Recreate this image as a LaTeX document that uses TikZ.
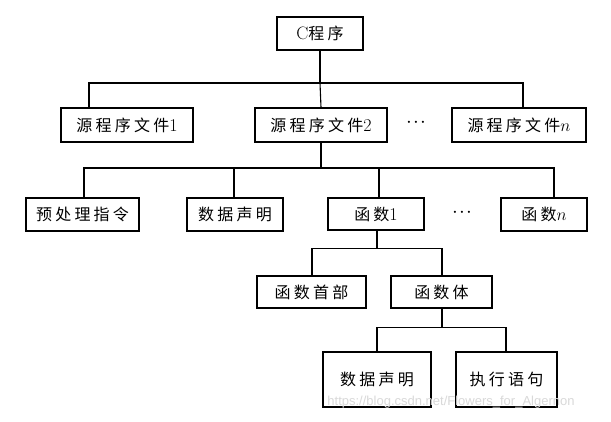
\documentclass[tikz,border=0pt]{standalone}
\usepackage{fontspec}
\newfontfamily\cjk[LetterSpace=20]{Noto Sans CJK SC}
\newfontfamily\wmfont{Liberation Sans}
\newcommand\lat[1]{{\normalfont\fontsize{18}{20}\selectfont #1}}
\begin{document}
\begin{tikzpicture}[x=1pt,y=-1pt,
  box/.style={draw,line width=1.3pt,inner sep=0pt,font=\fontsize{16}{18}\selectfont\cjk},
  conn/.style={line width=1.1pt},
  dotsnode/.style={inner sep=0pt,font=\fontsize{20}{22}\selectfont}]
\useasboundingbox[fill=white] (0,0) rectangle (611,421);
% level 1
\node[box,minimum width=86pt,minimum height=33pt] (C) at (320,33.5) {\lat{C}程序};
% level 2
\node[box,minimum width=132pt,minimum height=34pt] (f1) at (127,125) {源程序文件\lat{1}};
\node[box,minimum width=132pt,minimum height=34pt] (f2) at (321,125) {源程序文件\lat{2}};
\node[box,minimum width=134pt,minimum height=34pt] (fn) at (519,125) {源程序文件\lat{$n$}};
\node[dotsnode] (d1) at (416,123) {$\cdot\!\cdot\!\cdot$};
\draw[conn] (C.south) -- (C.south |- 0,83) coordinate (b1);
\draw[conn] ([xshift=-38pt]f1.north) |- (b1);
\draw[conn] (f2.north) -- (b1);
\draw[conn] ([xshift=4pt]fn.north) |- (b1);
% level 3
\node[box,minimum width=113pt,minimum height=33pt] (pre) at (82.5,214.5) {预处理指令};
\node[box,minimum width=96pt,minimum height=33pt] (ds) at (235,214.5) {数据声明};
\node[box,minimum width=96pt,minimum height=32pt] (fun1) at (376,214) {函数\lat{1}};
\node[box,minimum width=86pt,minimum height=33pt] (funn) at (544,214.5) {函数\lat{$n$}};
\node[dotsnode] (d2) at (462,213) {$\cdot\!\cdot\!\cdot$};
\draw[conn] (f2.south) -- (f2.south |- 0,168) coordinate (b2);
\draw[conn] ([xshift=1.5pt]pre.north) |- (b2);
\draw[conn] ([xshift=-1pt]ds.north) |- (b2);
\draw[conn] ([xshift=3pt]fun1.north) |- (b2);
\draw[conn] ([xshift=10pt]funn.north) |- (b2);
% level 4
\node[box,minimum width=109pt,minimum height=32pt] (head) at (311.5,292) {函数首部};
\node[box,minimum width=101pt,minimum height=32pt] (body) at (441.5,292) {函数体};
\draw[conn] ([xshift=1pt]fun1.south) -- ++(0,18) coordinate (b3);
\draw[conn] ([xshift=0.5pt]head.north) |- (b3);
\draw[conn] ([xshift=0.5pt]body.north) |- (b3);
% level 5
\node[box,minimum width=108pt,minimum height=55pt] (ds2) at (377,379.5) {数据声明};
\node[box,minimum width=101pt,minimum height=55pt] (exe) at (506.5,379.5) {执行语句};
\draw[conn] ([xshift=0.5pt]body.south) -- ++(0,19) coordinate (b4);
\draw[conn] (ds2.north) |- (b4);
\draw[conn] ([xshift=-0.5pt]exe.north) |- (b4);
% watermark
\node[inner sep=0pt,text=black!15,font=\fontsize{13}{14}\selectfont\wmfont] (wm) at (451,402) {https://blog.csdn.net/Flowers\_for\_Algernon};
\end{tikzpicture}
\end{document}
